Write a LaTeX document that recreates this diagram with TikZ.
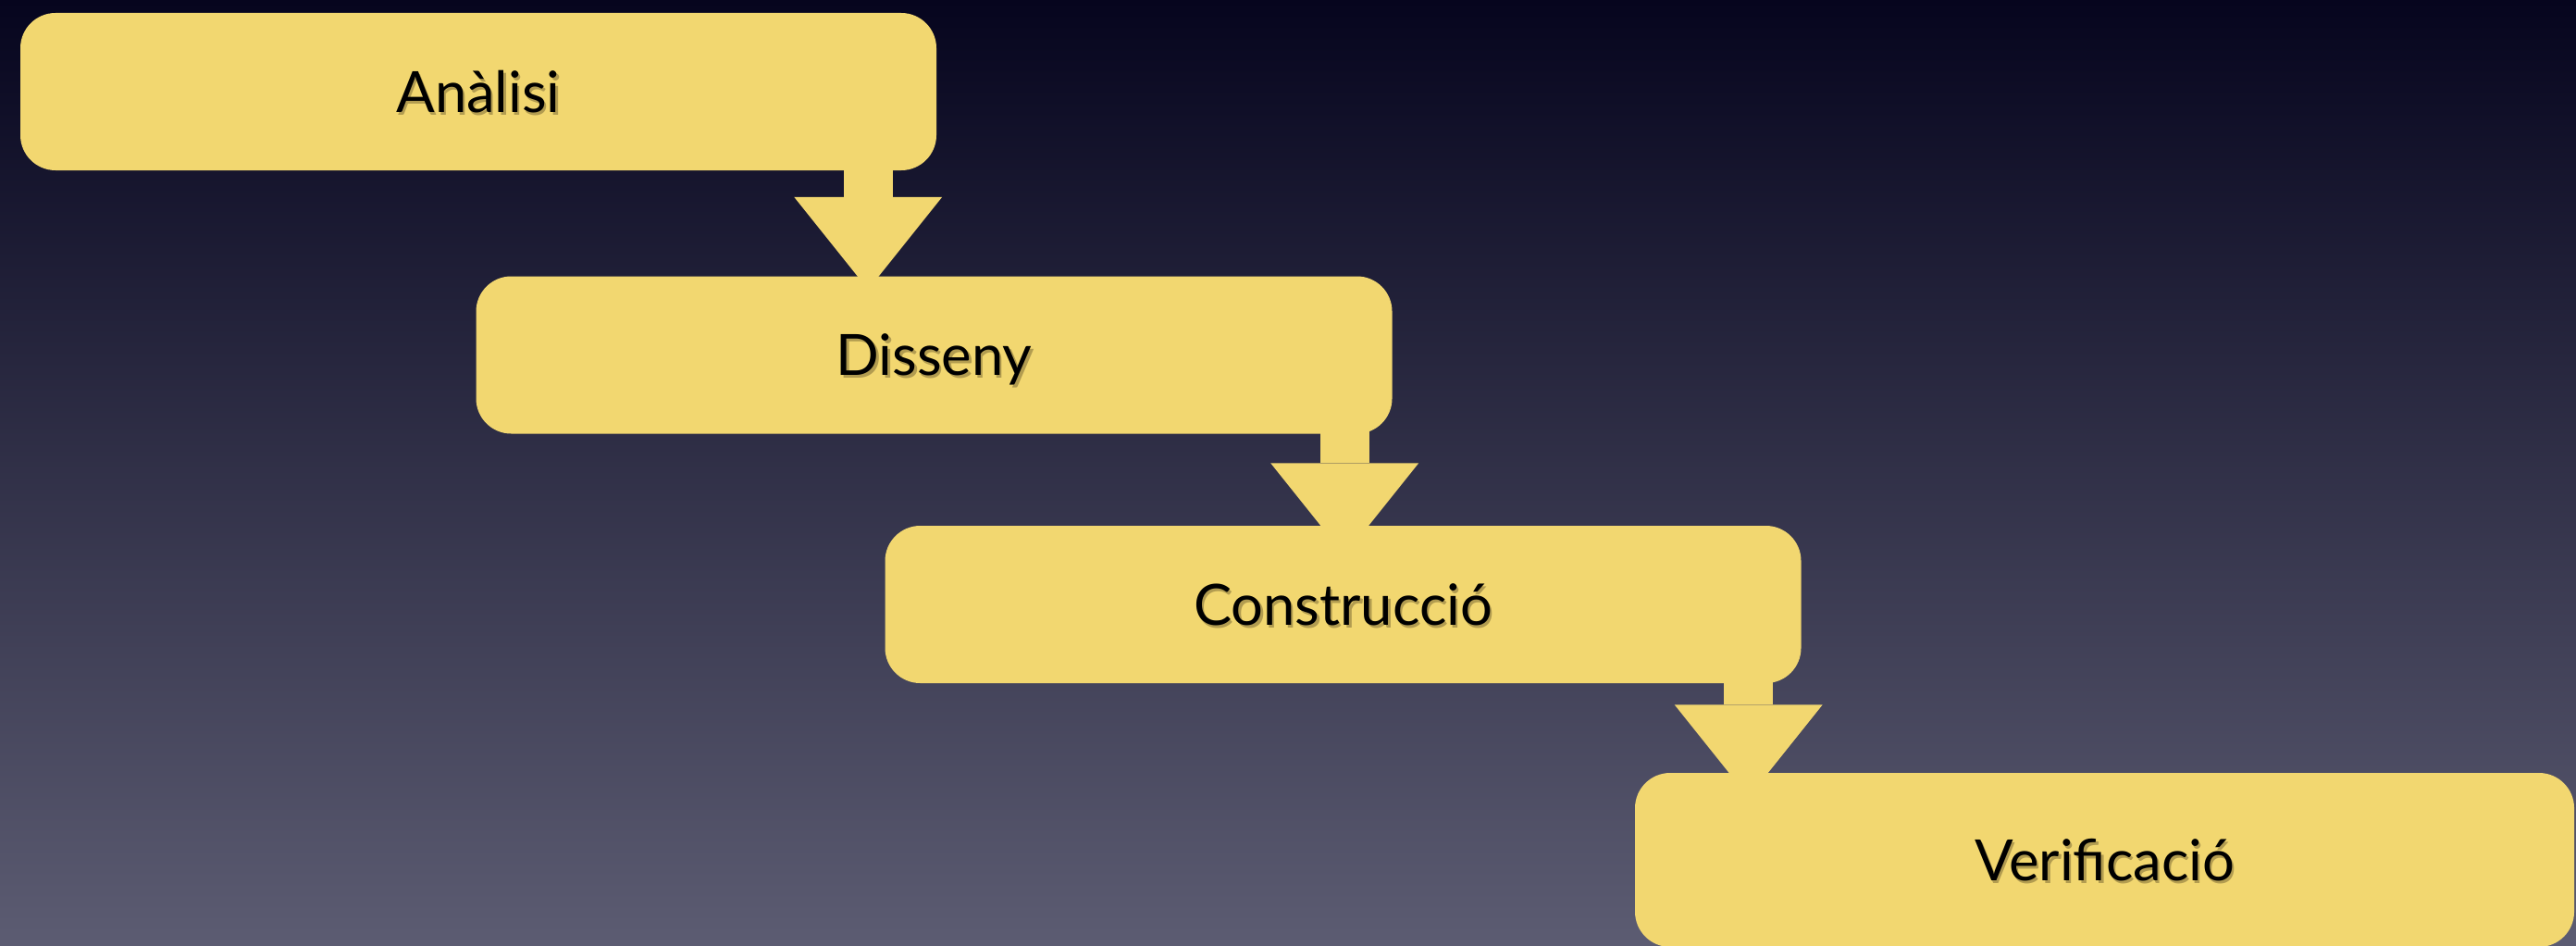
\documentclass[tikz,border=0pt]{standalone}
\usepackage{fontspec}
\setmainfont{Lato}
\usetikzlibrary{arrows.meta,backgrounds}

\definecolor{paper}{RGB}{242,215,112}
\definecolor{nighttop}{RGB}{6,5,30}
\definecolor{nightbottom}{RGB}{92,92,114}
\definecolor{inkshade}{RGB}{178,156,80}

\tikzstyle{stage} = [fill=paper, rectangle, rounded corners=3.8mm, inner sep=0pt,
    minimum width=9.9cm, minimum height=1.7cm,
    font=\fontsize{17.5}{21}\selectfont, text height=12.6pt, text depth=0pt]
\tikzstyle{flow} = [draw=paper, line width=5.3mm,
    -{Triangle[width=16mm, length=10mm, line width=0pt]}]

% soft shadow under the stage names
\newcommand{\inked}[1]{\makebox[0pt][l]{\hspace{0.7pt}\raisebox{-0.9pt}{\color{inkshade}#1}}#1}

\begin{document}
\begin{tikzpicture}
\useasboundingbox (0,0) rectangle (27.84,10.21);
\clip (0,0) rectangle (27.84,10.21);

\node[stage] (analisi) at (5.17,9.22) {\inked{Anàlisi}};
\node[stage] (disseny) at (10.095,6.375) {\inked{Disseny}};
\node[stage] (construccio) at (14.515,3.68) {\inked{Construcció}};
\node[stage, minimum width=10.15cm, minimum height=1.88cm] (verificacio) at (22.745,0.92) {\inked{Verificació}};

\begin{scope}[on background layer]
    \shade[top color=nighttop, bottom color=nightbottom] (0,0) rectangle (27.84,10.21);
    % arrows run under the boxes
    \draw[flow] ([xshift=-7.45mm, yshift=3mm]analisi.south east)
        -- ([xshift=-7.45mm, yshift=-1.5mm]analisi.south east |- disseny.north);
    \draw[flow] ([xshift=-5.2mm, yshift=3mm]disseny.south east)
        -- ([xshift=-5.2mm, yshift=-3.3mm]disseny.south east |- construccio.north);
    \draw[flow] ([xshift=-5.75mm, yshift=3mm]construccio.south east)
        -- ([xshift=-5.75mm, yshift=-2.7mm]construccio.south east |- verificacio.north);
\end{scope}
\end{tikzpicture}
\end{document}
